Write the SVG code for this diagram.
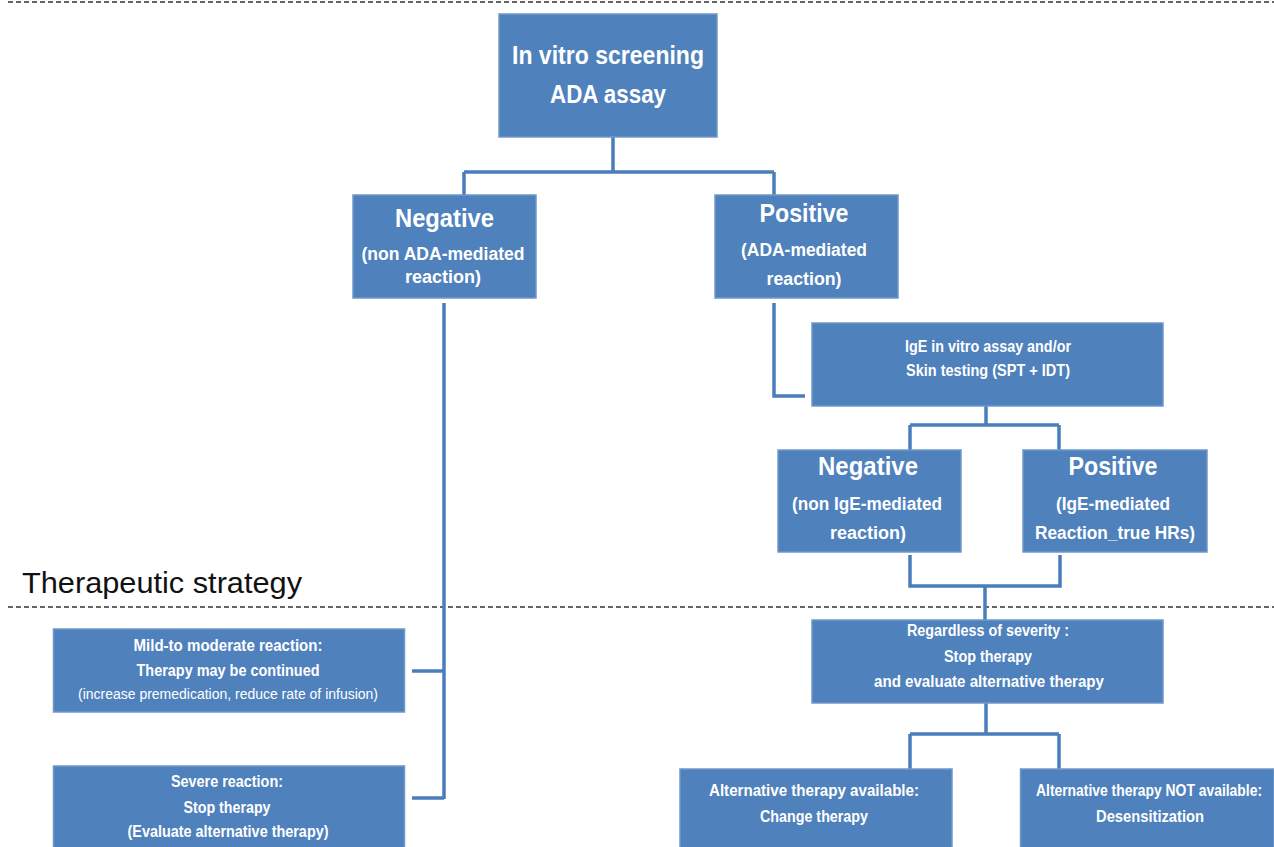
<svg xmlns="http://www.w3.org/2000/svg" width="1274" height="847" viewBox="0 0 1274 847">
<style>
.box{fill:#4F81BD;stroke:#6F98CC;stroke-width:1.5}
.t{font-family:"Liberation Sans",Arial,sans-serif;font-weight:bold;fill:#FFFFFF;text-anchor:middle}
.big{font-size:25px}
.sub{font-size:18px}
.sm{font-size:16px}
.reg{font-weight:normal;font-size:14px}
.conn{fill:none;stroke:#4A7EBB;stroke-width:3.5}
.dash{fill:none;stroke:#333;stroke-width:1.5;stroke-dasharray:5 3}
.lbl{font-family:"Liberation Sans",Arial,sans-serif;font-size:29px;fill:#111}
</style>
<rect width="1274" height="847" fill="#FFFFFF"/>
<g id="separators">
<line class="dash" x1="8" y1="2" x2="1274" y2="2"/>
<line class="dash" x1="8" y1="607" x2="1274" y2="607"/>
</g>
<text class="lbl" x="22" y="593" textLength="280" lengthAdjust="spacingAndGlyphs">Therapeutic strategy</text>
<g id="connectors">
<path class="conn" d="M613 137 V172 M464 172 H774 M464 172 V195 M774 172 V195"/>
<path class="conn" d="M444 303 V799 M412 671 H444 M412 798 H444"/>
<path class="conn" d="M774 303 V396 H805"/>
<path class="conn" d="M986 406 V425 M910 425 H1059 M910 425 V450 M1059 425 V450"/>
<path class="conn" d="M910 555 V586 H1060 V555 M985 586 V620"/>
<path class="conn" d="M986 703 V734 M910 734 H1059 M910 734 V769 M1059 734 V769"/>
</g>
<g id="screening">
<rect class="box" x="499" y="14" width="218" height="123"/>
<text class="t big" x="608" y="64" textLength="192" lengthAdjust="spacingAndGlyphs">In vitro screening</text>
<text class="t big" x="608" y="103" textLength="116" lengthAdjust="spacingAndGlyphs">ADA assay</text>
</g>
<g id="ada-negative">
<rect class="box" x="353" y="195" width="183" height="103"/>
<text class="t big" x="444.5" y="227" textLength="99" lengthAdjust="spacingAndGlyphs">Negative</text>
<text class="t sub" x="443" y="260" textLength="163" lengthAdjust="spacingAndGlyphs">(non ADA-mediated</text>
<text class="t sub" x="443" y="283" textLength="76" lengthAdjust="spacingAndGlyphs">reaction)</text>
</g>
<g id="ada-positive">
<rect class="box" x="715" y="195" width="183" height="103"/>
<text class="t big" x="804" y="222" textLength="89" lengthAdjust="spacingAndGlyphs">Positive</text>
<text class="t sub" x="804" y="256" textLength="126" lengthAdjust="spacingAndGlyphs">(ADA-mediated</text>
<text class="t sub" x="804" y="285" textLength="75" lengthAdjust="spacingAndGlyphs">reaction)</text>
</g>
<g id="ige-test">
<rect class="box" x="812" y="323" width="351" height="83"/>
<text class="t sm" x="988" y="352" textLength="166" lengthAdjust="spacingAndGlyphs">IgE in vitro assay and/or</text>
<text class="t sm" x="988" y="376" textLength="164" lengthAdjust="spacingAndGlyphs">Skin testing (SPT + IDT)</text>
</g>
<g id="ige-negative">
<rect class="box" x="778" y="450" width="183" height="102"/>
<text class="t big" x="868" y="475" textLength="100" lengthAdjust="spacingAndGlyphs">Negative</text>
<text class="t sub" x="867" y="510" textLength="150" lengthAdjust="spacingAndGlyphs">(non IgE-mediated</text>
<text class="t sub" x="868" y="539" textLength="76" lengthAdjust="spacingAndGlyphs">reaction)</text>
</g>
<g id="ige-positive">
<rect class="box" x="1023" y="450" width="184" height="102"/>
<text class="t big" x="1113" y="475" textLength="89" lengthAdjust="spacingAndGlyphs">Positive</text>
<text class="t sub" x="1113" y="510" textLength="114" lengthAdjust="spacingAndGlyphs">(IgE-mediated</text>
<text class="t sub" x="1115" y="539" textLength="160" lengthAdjust="spacingAndGlyphs">Reaction_true HRs)</text>
</g>
<g id="mild">
<rect class="box" x="53.5" y="629" width="351" height="83"/>
<text class="t sm" x="228" y="651" textLength="189" lengthAdjust="spacingAndGlyphs">Mild-to moderate reaction:</text>
<text class="t sm" x="228" y="676" textLength="183" lengthAdjust="spacingAndGlyphs">Therapy may be continued</text>
<text class="t reg" x="228" y="699" textLength="300" lengthAdjust="spacingAndGlyphs">(increase premedication, reduce rate of infusion)</text>
</g>
<g id="severe">
<rect class="box" x="53.5" y="766" width="351" height="90"/>
<text class="t sm" x="227" y="787" textLength="112" lengthAdjust="spacingAndGlyphs">Severe reaction:</text>
<text class="t sm" x="227" y="813" textLength="87" lengthAdjust="spacingAndGlyphs">Stop therapy</text>
<text class="t sm" x="228" y="837" textLength="201" lengthAdjust="spacingAndGlyphs">(Evaluate alternative therapy)</text>
</g>
<g id="regardless">
<rect class="box" x="812" y="620" width="351" height="83"/>
<text class="t sm" x="988" y="636" textLength="162" lengthAdjust="spacingAndGlyphs">Regardless of severity :</text>
<text class="t sm" x="988" y="662" textLength="88" lengthAdjust="spacingAndGlyphs">Stop therapy</text>
<text class="t sm" x="989" y="687" textLength="230" lengthAdjust="spacingAndGlyphs">and evaluate alternative therapy</text>
</g>
<g id="alt-available">
<rect class="box" x="680" y="769" width="272" height="90"/>
<text class="t sm" x="814" y="796" textLength="210" lengthAdjust="spacingAndGlyphs">Alternative therapy available:</text>
<text class="t sm" x="814" y="822" textLength="108" lengthAdjust="spacingAndGlyphs">Change therapy</text>
</g>
<g id="alt-not-available">
<rect class="box" x="1020.5" y="769" width="253.5" height="90"/>
<text class="t sm" x="1262" y="796" style="text-anchor:end" textLength="226" lengthAdjust="spacingAndGlyphs">Alternative therapy NOT available:</text>
<text class="t sm" x="1150" y="822" textLength="108" lengthAdjust="spacingAndGlyphs">Desensitization</text>
</g>
</svg>
